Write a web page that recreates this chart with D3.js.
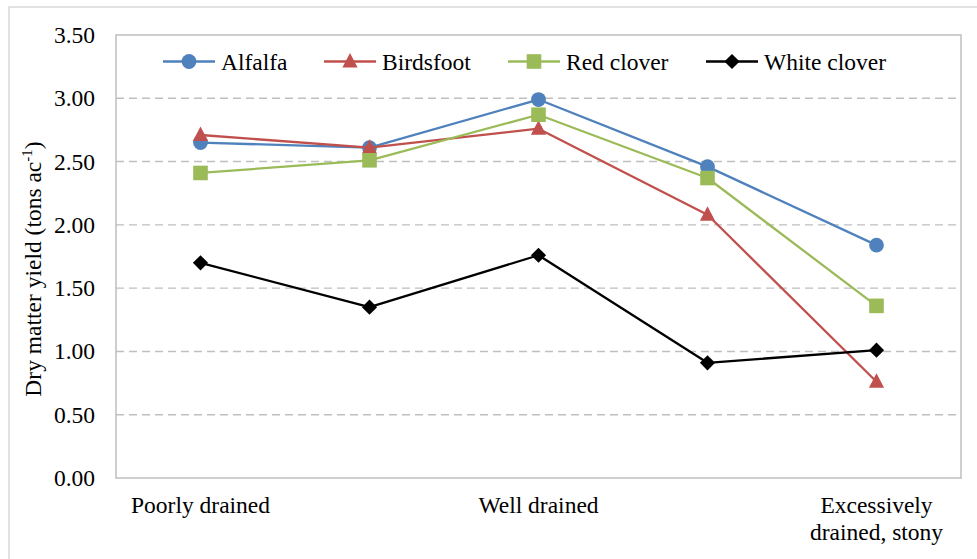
<!DOCTYPE html>
<html>
<head>
<meta charset="utf-8">
<script src="https://cdn.jsdelivr.net/npm/d3@7"></script>
<style>
  html, body { margin: 0; padding: 0; background: #fff; }
</style>
</head>
<body>
<svg id="chart" width="977" height="559"></svg>
<script>
// Drainage classes along the x axis (blank entries are unlabelled positions)
const categories = ["Poorly drained", "", "Well drained", "", "Excessively\ndrained, stony"];

// Dry matter yield, tons per acre
const alfalfa     = [2.65, 2.61, 2.99, 2.46, 1.84];
const birdsfoot   = [2.71, 2.61, 2.76, 2.08, 0.76];
const redClover   = [2.41, 2.51, 2.87, 2.37, 1.36];
const whiteClover = [1.70, 1.35, 1.76, 0.91, 1.01];

const yTicks = [0, 0.5, 1, 1.5, 2, 2.5, 3, 3.5];

const series = [
  { name: "Alfalfa",      values: alfalfa,     color: "#4F81BD", marker: "circle" },
  { name: "Birdsfoot",    values: birdsfoot,   color: "#C0504D", marker: "triangle" },
  { name: "Red clover",   values: redClover,   color: "#9BBB59", marker: "square" },
  { name: "White clover", values: whiteClover, color: "#000000", marker: "diamond" }
];

const FONT = '"Liberation Serif"';
const fontSize = 23.5;

const svg = d3.select("#chart");

// Serif text helper
function serif(sel, size) {
  return sel
    .style("font-family", FONT)
    .style("font-size", size + "px");
}

const plot = { left: 116, right: 961, top: 35, bottom: 478 };

const x = d3.scaleBand()
  .domain(d3.range(categories.length))
  .range([plot.left, plot.right])
  .padding(0);

const y = d3.scaleLinear()
  .domain([0, 3.5])
  .range([plot.bottom, plot.top]);

// Outer chart frame
svg.append("rect")
  .attr("x", 9).attr("y", 7)
  .attr("width", 977).attr("height", 600)
  .attr("fill", "none")
  .attr("stroke", "#D9D9D9")
  .attr("stroke-width", 1.5);

// Dashed horizontal gridlines
svg.append("g")
  .selectAll("line")
  .data(yTicks.filter(t => t > 0 && t < 3.5))
  .join("line")
  .attr("x1", plot.left).attr("x2", plot.right)
  .attr("y1", d => y(d)).attr("y2", d => y(d))
  .attr("stroke", "#BFBFBF")
  .attr("stroke-width", 1.4)
  .attr("stroke-dasharray", "8,5");

// Plot area border
svg.append("rect")
  .attr("x", plot.left).attr("y", plot.top)
  .attr("width", plot.right - plot.left).attr("height", plot.bottom - plot.top)
  .attr("fill", "none")
  .attr("stroke", "#BFBFBF")
  .attr("stroke-width", 1.5);

// Y axis tick labels
const yAxis = svg.append("g")
  .attr("transform", `translate(${plot.left},0)`)
  .call(d3.axisLeft(y).tickValues(yTicks).tickFormat(d3.format(".2f")).tickSize(0).tickPadding(21));
yAxis.attr("font-family", null).attr("font-size", null);
yAxis.select(".domain").remove();
serif(yAxis.selectAll("text"), fontSize).attr("fill", "#000");

// X axis category labels (multi-line)
const xAxis = svg.append("g")
  .attr("transform", `translate(0,${plot.bottom})`)
  .call(d3.axisBottom(x).tickFormat(() => "").tickSize(0));
xAxis.attr("font-family", null).attr("font-size", null);
xAxis.select(".domain").remove();
xAxis.selectAll(".tick").each(function(d) {
  const lines = categories[d].split("\n").filter(s => s.length);
  const t = serif(d3.select(this).select("text"), fontSize)
    .attr("fill", "#000")
    .attr("y", 0).attr("dy", null);
  lines.forEach((line, i) => {
    t.append("tspan")
      .attr("x", 0)
      .attr("y", 35 + i * 27)
      .text(line);
  });
});

// Y axis title
const title = serif(svg.append("text"), fontSize)
  .attr("transform", "translate(41,269) rotate(-90)")
  .attr("text-anchor", "middle");
title.append("tspan").text("Dry matter yield (tons ac");
title.append("tspan").attr("dy", -9).style("font-size", "15px").text("-1");
title.append("tspan").attr("dy", 9).text(")");

// Marker shapes
function drawMarker(g, type, color, cx, cy) {
  if (type === "circle") {
    g.append("circle").attr("cx", cx).attr("cy", cy).attr("r", 7.4).attr("fill", color);
  } else if (type === "square") {
    g.append("rect").attr("x", cx - 7.3).attr("y", cy - 7.3).attr("width", 14.6).attr("height", 14.6).attr("fill", color);
  } else if (type === "triangle") {
    g.append("path")
      .attr("d", `M${cx},${cy - 8.5}L${cx + 7.6},${cy + 6}L${cx - 7.6},${cy + 6}Z`)
      .attr("fill", color);
  } else if (type === "diamond") {
    g.append("path")
      .attr("d", `M${cx},${cy - 7.6}L${cx + 7.6},${cy}L${cx},${cy + 7.6}L${cx - 7.6},${cy}Z`)
      .attr("fill", color);
  }
}

const line = d3.line()
  .x((d, i) => x(i) + x.bandwidth() / 2)
  .y(d => y(d));

series.forEach(s => {
  const g = svg.append("g");
  g.append("path")
    .datum(s.values)
    .attr("d", line)
    .attr("fill", "none")
    .attr("stroke", s.color)
    .attr("stroke-width", 2.3)
    .attr("stroke-linejoin", "round");
  s.values.forEach((v, i) => drawMarker(g, s.marker, s.color, x(i) + x.bandwidth() / 2, y(v)));
});

// Legend
const legendX = [163, 324, 508, 706];
const legendY = 61.5;
series.forEach((s, i) => {
  const g = svg.append("g").attr("transform", `translate(${legendX[i]},${legendY})`);
  g.append("line")
    .attr("x1", 0).attr("x2", 52)
    .attr("y1", 0).attr("y2", 0)
    .attr("stroke", s.color)
    .attr("stroke-width", 2.3);
  drawMarker(g, s.marker, s.color, 26, 0);
  serif(g.append("text"), fontSize)
    .attr("x", 58)
    .attr("y", 8)
    .text(s.name);
});
</script>
</body>
</html>
